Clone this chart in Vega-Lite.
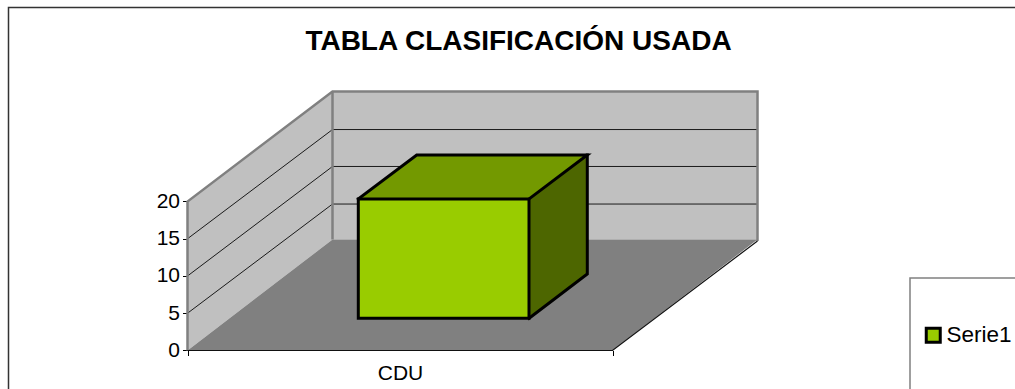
{
"$schema":"https://vega.github.io/schema/vega-lite/v6.json",
"width":1015,"height":389,"padding":0,"autosize":{"type":"none"},"background":"white",
"config":{"font":"Liberation Sans","view":{"stroke":null},"legend":{"orient":"none"}},
"title":{"text":"TABLA CLASIFICACIÓN USADA","font":"Liberation Sans","fontSize":28,"fontWeight":"bold","color":"black","anchor":"middle","frame":"group","offset":0,"baseline":"alphabetic","dx":11,"dy":78},
"encoding":{
"x":{"field":"x","type":"quantitative","title":null,"scale":{"domain":[0,1015],"nice":false,"zero":false},"axis":{"orient":"bottom","offset":-38.5,"values":[187.5,612.5],"labels":false,"domain":false,"grid":false,"ticks":true,"tickColor":"black","tickSize":5,"tickWidth":1}},
"y":{"field":"y","type":"quantitative","title":null,"stack":null,"scale":{"domain":[-5.168,47.047],"nice":false,"zero":false},"axis":{"orient":"left","offset":-187.5,"values":[0,5,10,15,20],"domain":false,"grid":false,"tickColor":"black","tickSize":5,"tickWidth":1,"labelFontSize":21,"labelColor":"black","labelPadding":3,"labelFont":"Liberation Sans"}}
},
"layer":[
{"data":{"values":[{"x":187.5,"y":20,"y2":0},{"x":332.5,"y":34.77,"y2":14.9}]},"mark":{"type":"area","color":"#c0c0c0"},"encoding":{"y2":{"field":"y2"}}},
{"data":{"values":[{"x":332.5,"y":34.77,"y2":14.9},{"x":757.5,"y":34.77,"y2":14.9}]},"mark":{"type":"area","color":"#c0c0c0"},"encoding":{"y2":{"field":"y2"}}},
{"data":{"values":[{"x":187.5,"y":0,"y2":0},{"x":332.5,"y":14.9,"y2":0},{"x":612.5,"y":14.9,"y2":0},{"x":757.5,"y":14.9,"y2":14.9}]},"mark":{"type":"area","color":"#808080"},"encoding":{"y2":{"field":"y2"}}},
{"data":{"values":[
{"edge":"g5","i":0,"x":187.5,"y":5},{"edge":"g5","i":1,"x":332.5,"y":19.66},{"edge":"g5","i":2,"x":757.5,"y":19.66},
{"edge":"g10","i":0,"x":187.5,"y":10},{"edge":"g10","i":1,"x":332.5,"y":24.7},{"edge":"g10","i":2,"x":757.5,"y":24.7},
{"edge":"g15","i":0,"x":187.5,"y":15},{"edge":"g15","i":1,"x":332.5,"y":29.66},{"edge":"g15","i":2,"x":757.5,"y":29.66}]},
"mark":{"type":"line","color":"#1a1a1a","strokeWidth":1},"encoding":{"detail":{"field":"edge"},"order":{"field":"i"}}},
{"data":{"values":[
{"edge":"outer","i":0,"x":187.5,"y":0},{"edge":"outer","i":1,"x":187.5,"y":20},{"edge":"outer","i":2,"x":332.5,"y":34.77},{"edge":"outer","i":3,"x":757.5,"y":34.77},{"edge":"outer","i":4,"x":757.5,"y":14.7},
{"edge":"corner","i":0,"x":332.5,"y":34.77},{"edge":"corner","i":1,"x":332.5,"y":14.9}]},
"mark":{"type":"line","color":"#808080","strokeWidth":2.5},"encoding":{"detail":{"field":"edge"},"order":{"field":"i"}}},
{"data":{"values":[
{"edge":"floor","i":0,"x":187.5,"y":0},{"edge":"floor","i":1,"x":612.5,"y":0},{"edge":"floor","i":2,"x":757.5,"y":14.7}]},
"mark":{"type":"line","color":"#111111","strokeWidth":1.2},"encoding":{"detail":{"field":"edge"},"order":{"field":"i"}}},
{"data":{"values":[{"x":358.3,"y":20.34,"y2":20.34},{"x":416.7,"y":26.24,"y2":20.34},{"x":529,"y":26.24,"y2":20.34},{"x":587.3,"y":26.24,"y2":26.24}]},"mark":{"type":"area","color":"#739900"},"encoding":{"y2":{"field":"y2"}}},
{"data":{"values":[{"x":529,"y":20.34,"y2":4.32},{"x":587.3,"y":26.24,"y2":10.27}]},"mark":{"type":"area","color":"#4d6600"},"encoding":{"y2":{"field":"y2"}}},
{"data":{"values":[{"serie":"Serie1","x":358.3,"x2":529,"y":20.34,"y2":4.32}]},"mark":{"type":"rect"},"encoding":{"x2":{"field":"x2"},"y2":{"field":"y2"},"fill":{"field":"serie","type":"nominal","scale":{"domain":["Serie1"],"range":["#99cc00"]},"legend":{"title":null,"orient":"none","legendX":922,"legendY":324,"symbolType":"square","symbolSize":196,"symbolStrokeColor":"black","symbolStrokeWidth":3,"labelFontSize":22.5,"labelColor":"black","labelFont":"Liberation Sans","labelOffset":2}}}},
{"data":{"values":[
{"edge":"front","i":0,"x":358.3,"y":20.34},{"edge":"front","i":1,"x":529,"y":20.34},{"edge":"front","i":2,"x":529,"y":4.32},{"edge":"front","i":3,"x":358.3,"y":4.32},{"edge":"front","i":4,"x":358.3,"y":20.34},
{"edge":"top","i":0,"x":358.3,"y":20.34},{"edge":"top","i":1,"x":416.7,"y":26.24},{"edge":"top","i":2,"x":587.3,"y":26.24},{"edge":"top","i":3,"x":529,"y":20.34},
{"edge":"side","i":0,"x":587.3,"y":26.24},{"edge":"side","i":1,"x":587.3,"y":10.27},{"edge":"side","i":2,"x":529,"y":4.32}]},
"mark":{"type":"line","color":"black","strokeWidth":3,"strokeCap":"square"},"encoding":{"detail":{"field":"edge"},"order":{"field":"i"}}},
{"data":{"values":[{"label":"CDU","x":400.5,"y":-3.1}]},"mark":{"type":"text","fontSize":21,"color":"black","align":"center","baseline":"middle","font":"Liberation Sans"},"encoding":{"text":{"field":"label"}}},
{"data":{"values":[
{"edge":"frame","i":0,"x":8.5,"y":-5.168},{"edge":"frame","i":1,"x":8.5,"y":46.05},{"edge":"frame","i":2,"x":1015,"y":46.05}]},
"mark":{"type":"line","color":"#333333","strokeWidth":1.5},"encoding":{"detail":{"field":"edge"},"order":{"field":"i"}}},
{"data":{"values":[
{"edge":"legend","i":0,"x":910,"y":-5.168},{"edge":"legend","i":1,"x":910,"y":9.72},{"edge":"legend","i":2,"x":1015,"y":9.72}]},
"mark":{"type":"line","color":"#808080","strokeWidth":1.5},"encoding":{"detail":{"field":"edge"},"order":{"field":"i"}}}
]
}
